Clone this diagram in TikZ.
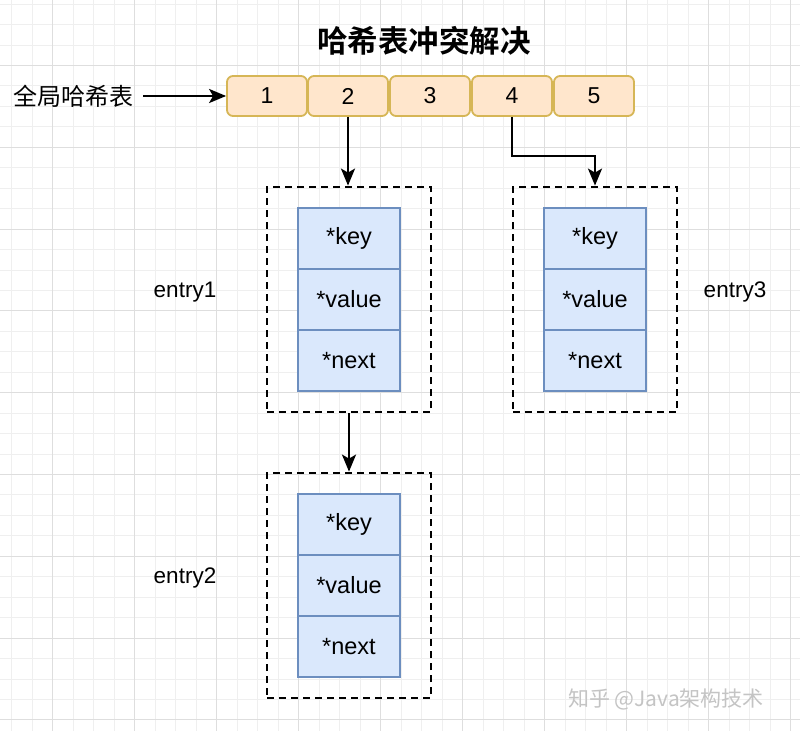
\documentclass[tikz,border=0pt]{standalone}
\usepackage{fontspec}
\setmainfont{Liberation Sans}
\newfontfamily\cjk{Noto Sans CJK SC}
\newfontfamily\cjkb{Noto Sans CJK SC Bold}
\usetikzlibrary{arrows.meta}
\definecolor{cellfill}{HTML}{FFE6CC}
\definecolor{celldraw}{HTML}{D6B656}
\definecolor{entfill}{HTML}{DAE8FC}
\definecolor{entdraw}{HTML}{6C8EBF}
\definecolor{gridminor}{HTML}{EFEFEF}
\definecolor{gridmajor}{HTML}{DEDEDE}
\definecolor{wmark}{HTML}{C4C4C4}
\begin{document}
\begin{tikzpicture}[x=1pt,y=-1pt,
 cell/.style={draw=celldraw,fill=cellfill,rounded corners=6pt,line width=1.8pt,minimum width=80pt,minimum height=40pt,inner sep=0pt,font=\fontsize{23}{26}\selectfont},
 field/.style={draw=entdraw,fill=entfill,line width=1.8pt,minimum width=102pt,minimum height=61pt,inner sep=0pt,font=\fontsize{23.5}{26}\selectfont},
 entbox/.style={draw=black,dash pattern=on 7pt off 5pt,line width=2.8pt,minimum width=164pt,minimum height=225pt,inner sep=0pt},
 lbl/.style={font=\fontsize{22.5}{26}\selectfont,inner sep=0pt},
 arr/.style={-{Stealth[length=17pt,width=14pt,inset=4pt]},line width=2.4pt}]
\useasboundingbox (0,0) rectangle (800,731);
\fill[white] (0,0) rectangle (800,731);
% grid
\foreach \i in {-2,...,36} { \draw[gridminor,line width=1pt] ({52.5+20.5*\i},0) -- ({52.5+20.5*\i},731); }
\foreach \j in {-3,...,32} { \draw[gridminor,line width=1pt] (0,{65.5+20.45*\j}) -- (800,{65.5+20.45*\j}); }
\foreach \i in {0,...,9} { \draw[gridmajor,line width=1pt] ({52.5+82*\i},0) -- ({52.5+82*\i},731); }
\foreach \j in {0,...,8} { \draw[gridmajor,line width=1pt] (0,{65.5+81.8*\j}) -- (800,{65.5+81.8*\j}); }
% title
\node[inner sep=0pt,font=\cjkb\fontsize{30.5}{34}\selectfont] (title) at (424,41) {哈希表冲突解决};
% table
\node[inner sep=0pt,font=\cjk\fontsize{24}{28}\selectfont] (glob) at (73,96) {全局哈希表};
\node[cell] (c1) at (267,96) {1};
\node[cell] (c2) at (348,96) {2};
\node[cell] (c3) at (430,96) {3};
\node[cell] (c4) at (512,96) {4};
\node[cell] (c5) at (594,96) {5};
% entries
\node[entbox] (e1) at (349,299.5) {};
\node[entbox] (e3) at (595,299.5) {};
\node[entbox] (e2) at (349,585.5) {};
\node[field] (k1) at (349,238.5) {*key};
\node[field] (v1) at (349,299.5) {*value};
\node[field] (n1) at (349,360.5) {*next};
\node[field] (k3) at (595,238.5) {*key};
\node[field] (v3) at (595,299.5) {*value};
\node[field] (n3) at (595,360.5) {*next};
\node[field] (k2) at (349,524.5) {*key};
\node[field] (v2) at (349,585.5) {*value};
\node[field] (n2) at (349,646.5) {*next};
\node[lbl] (l1) at (185,292) {entry1};
\node[lbl] (l2) at (185,578) {entry2};
\node[lbl] (l3) at (735,292) {entry3};
% connectors
\draw[arr,shorten <=10pt] (glob.east) -- (c1.west);
\draw[arr] (c2.south) -- (c2.south |- e1.north);
\draw[arr] (c4.south) -- ++(0,39) -| (e3.north);
\draw[arr] (e1.south) -- (e2.north);
% watermark
\node[inner sep=0pt,text=wmark,font=\cjk\fontsize{21}{24}\selectfont] (wm) at (666,699) {知乎 @Java架构技术};
\end{tikzpicture}
\end{document}
